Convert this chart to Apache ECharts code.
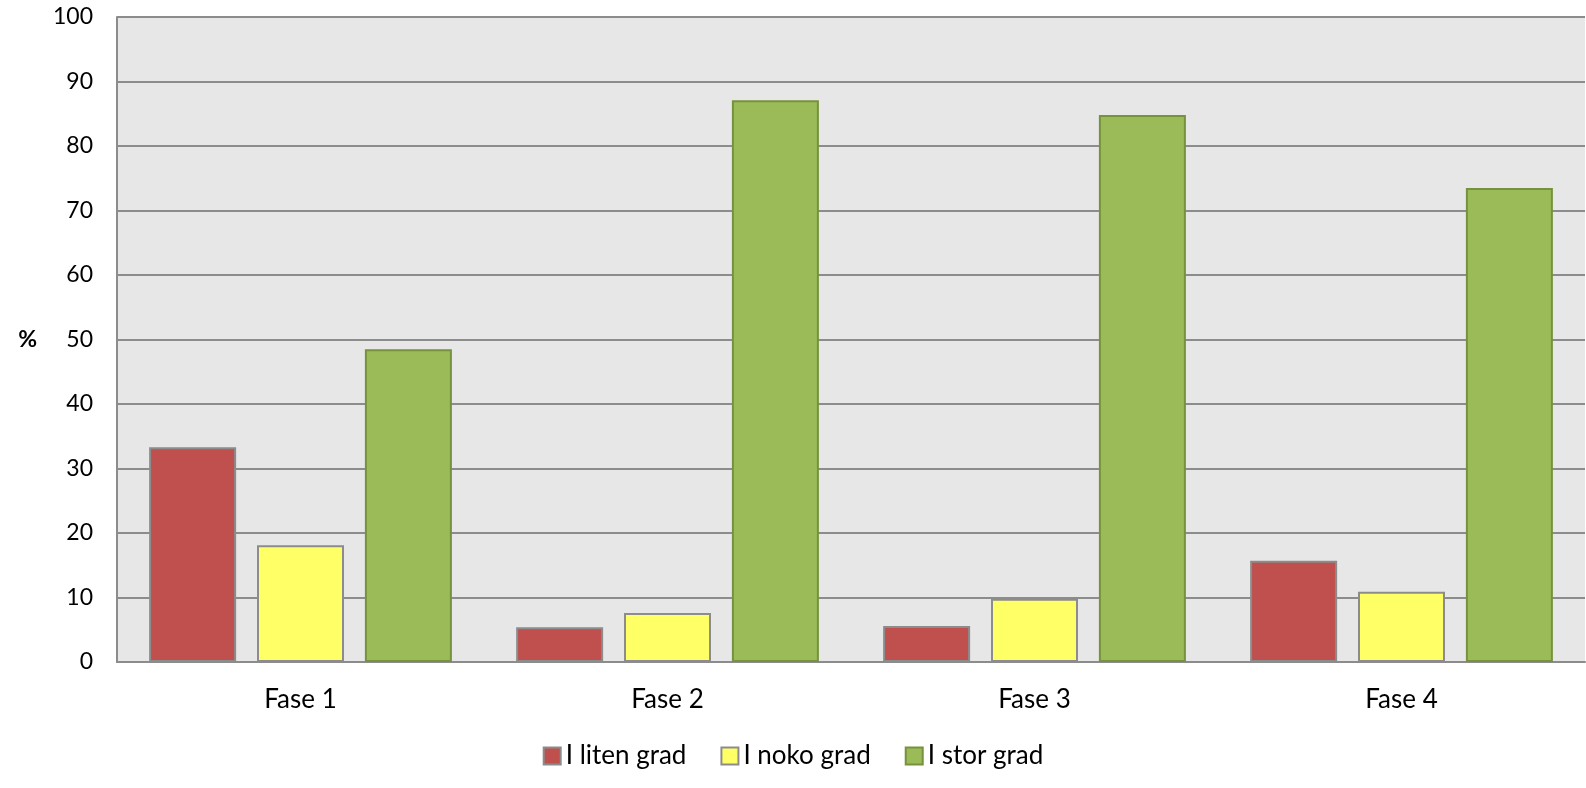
<!DOCTYPE html>
<html>
<head>
<meta charset="utf-8">
<script src="https://cdn.jsdelivr.net/npm/echarts@6/dist/echarts.min.js"></script>
<style>html,body{margin:0;padding:0;background:#fff;overflow:hidden}#c{width:1586px;height:788px}</style>
</head>
<body>
<div id="c"></div>
<script>
const categories = ['Fase 1', 'Fase 2', 'Fase 3', 'Fase 4'];
const seriesNames = ['I liten grad', 'I noko grad', 'I stor grad'];
const litenGrad = [33.3, 5.4, 5.6, 15.7];
const nokoGrad = [18.1, 7.6, 9.8, 10.9];
const storGrad = [48.5, 87.1, 84.8, 73.5];
const yTicks = [0, 10, 20, 30, 40, 50, 60, 70, 80, 90, 100];

const font = 'Lato, "Open Sans", sans-serif';
const chart = echarts.init(document.getElementById('c'));
const mk = (name, data, color, border) => ({
  name, type: 'bar', data, barWidth: 87, barGap: '24%',
  itemStyle: { color, borderColor: border, borderWidth: 2 }
});
chart.setOption({
  animation: false,
  grid: { left: 117, right: 1, top: 17, bottom: 126, show: true, backgroundColor: '#e7e7e7', borderWidth: 0,
    containLabel: false, outerBoundsMode: 'none' },
  legend: {
    bottom: 14, left: 'center', itemWidth: 17, itemHeight: 17, itemGap: 34,
    textStyle: { fontFamily: font, fontSize: 26, color: '#000' },
    data: seriesNames.map(n => ({ name: n, icon: 'rect' }))
  },
  xAxis: {
    type: 'category', data: categories,
    axisLine: { lineStyle: { color: '#8c8c8c', width: 2 } },
    axisTick: { show: false },
    axisLabel: { fontFamily: font, fontSize: 26, color: '#000', margin: 25 }
  },
  yAxis: {
    type: 'value', min: 0, max: 100, interval: 10,
    name: '%', nameLocation: 'middle', nameGap: 80, nameRotate: 0,
    nameTextStyle: { fontFamily: font, fontSize: 23, fontWeight: 'bold', color: '#000' },
    axisLine: { show: true, lineStyle: { color: '#8c8c8c', width: 2 } },
    axisTick: { show: false },
    splitLine: { lineStyle: { color: '#8c8c8c', width: 2 } },
    axisLabel: { fontFamily: font, fontSize: 23, color: '#000', margin: 24,
      formatter: v => yTicks.includes(v) ? String(v) : '' }
  },
  series: [
    mk(seriesNames[0], litenGrad, '#c0504d', '#8c8c8c'),
    mk(seriesNames[1], nokoGrad, '#ffff66', '#8c8c8c'),
    mk(seriesNames[2], storGrad, '#9bbb59', '#76923c')
  ]
});
</script>
</body>
</html>
